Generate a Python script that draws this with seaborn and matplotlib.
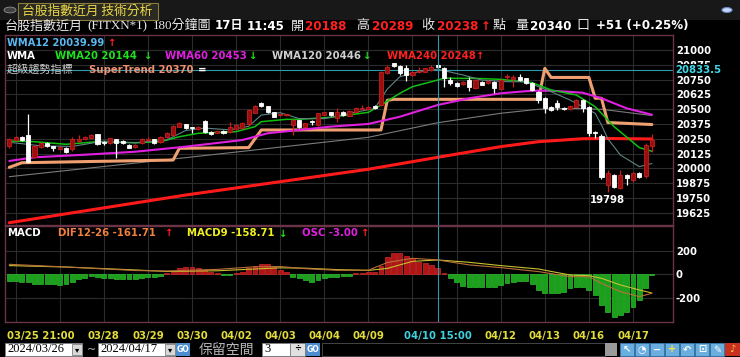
import matplotlib
matplotlib.use("Agg")
import matplotlib.pyplot as plt
import matplotlib.transforms as mtransforms
from matplotlib.patches import Rectangle, Circle
import numpy as np
import pandas as pd
import seaborn as sns

# ---------------- data ----------------
bar_idx = list(range(103))
opens = [20188, 20239, 20267, 20284, 20093, 20183, 20216, 20188, 20161, 20175,
         20160, 20235, 20245, 20259, 20287, 20220, 20212, 20245, 20233, 20197,
         20180, 20212, 20240, 20245, 20225, 20262, 20282, 20352, 20372, 20350,
         20335, 20402, 20310, 20300, 20318, 20304, 20330, 20338, 20372, 20470,
         20549, 20527, 20473, 20452, 20450, 20366, 20408, 20346, 20395, 20366,
         20453, 20473, 20422, 20479, 20445, 20479, 20500, 20505, 20527, 20535,
         20803, 20887, 20865, 20845, 20789, 20815, 20817, 20830, 20873, 20845,
         20746, 20724, 20710, 20746, 20676, 20732, 20718, 20732, 20668, 20768,
         20752, 20775, 20760, 20724, 20648, 20592, 20521, 20549, 20512, 20499,
         20521, 20577, 20521, 20310, 20273, 19859, 19944, 19831, 19944, 19901,
         19958, 19935, 20188]
highs = [20254, 20275, 20272, 20459, 20195, 20225, 20225, 20192, 20190, 20180,
         20262, 20282, 20272, 20290, 20292, 20228, 20260, 20250, 20240, 20205,
         20205, 20255, 20265, 20250, 20270, 20305, 20365, 20395, 20378, 20352,
         20360, 20410, 20315, 20325, 20322, 20394, 20372, 20390, 20500, 20535,
         20560, 20530, 20478, 20465, 20462, 20415, 20412, 20385, 20405, 20470,
         20480, 20478, 20513, 20485, 20495, 20520, 20535, 20525, 20535, 20825,
         20870, 20892, 20870, 20873, 20825, 20860, 20850, 20870, 20880, 20860,
         20770, 20730, 20740, 20770, 20755, 20740, 20748, 20740, 20752, 20800,
         20785, 20800, 20765, 20730, 20655, 20600, 20530, 20575, 20518, 20532,
         20583, 20585, 20530, 20315, 20290, 19985, 19950, 19985, 19950, 19965,
         19965, 20210, 20289]
lows = [20169, 20232, 20232, 20042, 20085, 20175, 20180, 20150, 20155, 20130,
        20150, 20225, 20240, 20255, 20195, 20195, 20205, 20087, 20205, 20170,
        20175, 20205, 20230, 20205, 20215, 20255, 20275, 20345, 20330, 20295,
        20325, 20300, 20285, 20295, 20290, 20300, 20325, 20335, 20365, 20465,
        20520, 20468, 20430, 20445, 20440, 20281, 20340, 20340, 20365, 20360,
        20448, 20445, 20390, 20445, 20440, 20475, 20493, 20498, 20500, 20530,
        20798, 20860, 20790, 20739, 20780, 20805, 20810, 20825, 20850, 20690,
        20705, 20690, 20705, 20650, 20670, 20700, 20712, 20635, 20660, 20745,
        20690, 20740, 20712, 20655, 20552, 20465, 20485, 20490, 20495, 20495,
        20515, 20480, 20275, 20255, 19907, 19798, 19835, 19825, 19860, 19880,
        19920, 19920, 20140]
closes = [20245, 20267, 20239, 20056, 20188, 20214, 20188, 20169, 20183, 20135,
          20250, 20250, 20267, 20284, 20205, 20212, 20254, 20216, 20212, 20175,
          20198, 20245, 20248, 20212, 20262, 20296, 20358, 20380, 20338, 20340,
          20350, 20304, 20290, 20318, 20296, 20352, 20366, 20380, 20493, 20527,
          20527, 20473, 20436, 20458, 20458, 20408, 20346, 20380, 20388, 20465,
          20473, 20451, 20479, 20451, 20487, 20512, 20512, 20515, 20507, 20817,
          20859, 20865, 20808, 20789, 20817, 20825, 20845, 20855, 20854, 20761,
          20724, 20696, 20732, 20690, 20746, 20704, 20740, 20676, 20746, 20775,
          20775, 20746, 20718, 20662, 20577, 20507, 20493, 20521, 20499, 20527,
          20577, 20507, 20296, 20296, 19929, 19958, 19845, 19944, 19916, 19958,
          19929, 20197, 20238]

wma12_x = [0, 5, 10, 15, 20, 25, 28, 31, 35, 38, 40, 43, 46, 50, 55, 58, 60, 62, 65, 68,
           72, 75, 79, 82, 84, 86, 89, 91, 93, 94, 95, 97, 100, 102]
wma12_y = [20220, 20190, 20185, 20230, 20215, 20240, 20320, 20340, 20325, 20355, 20450,
           20470, 20420, 20420, 20475, 20505, 20670, 20774, 20817, 20838, 20789, 20746,
           20732, 20732, 20690, 20648, 20577, 20521, 20465, 20366, 20250, 20112, 20014, 20040]
wma20_x = [0, 4, 9, 14, 20, 24, 27, 30, 36, 39, 40, 44, 46, 51, 57, 59, 62, 64, 67, 69,
           74, 78, 83, 86, 90, 93, 96, 100, 102]
wma20_y = [20231, 20225, 20203, 20225, 20216, 20225, 20267, 20296, 20310, 20352, 20394,
           20414, 20414, 20431, 20473, 20535, 20634, 20690, 20732, 20761, 20760, 20752,
           20724, 20662, 20620, 20521, 20352, 20175, 20144]
wma60_x = [0, 4, 11, 20, 28, 37, 41, 46, 51, 57, 62, 68, 73, 78, 83, 86, 91, 94, 98, 102]
wma60_y = [20062, 20093, 20112, 20140, 20183, 20239, 20296, 20324, 20352, 20375, 20436,
           20535, 20592, 20634, 20656, 20656, 20639, 20592, 20507, 20453]
wma120_x = [0, 28, 57, 68, 78, 84, 89, 94, 102]
wma120_y = [19929, 20090, 20262, 20385, 20465, 20499, 20507, 20499, 20446]
wma240_x = [0, 28, 57, 68, 78, 84, 91, 95, 102]
wma240_y = [19540, 19774, 19992, 20093, 20183, 20225, 20250, 20252, 20248]
st_x = [0, 2, 26, 27, 38, 40, 58, 59, 60, 61, 84, 85, 86, 92, 93, 94, 95, 102]
st_y = [20008, 20047, 20070, 20169, 20175, 20324, 20324, 20324, 20575, 20583, 20583,
        20845, 20768, 20768, 20592, 20592, 20387, 20370]

osc = [-57, -57, -62, -68, -85, -85, -85, -85, -91, -85, -62, -43, -28, -14, -20, -34,
       -34, -40, -40, -43, -43, -34, -26, -20, -14, 8, 23, 51, 60, 60, 51, 37, 23, 14,
       -6, -6, 9, 23, 51, 74, 85, 85, 65, 37, 23, -20, -34, -48, -62, -48, -34, -26,
       -20, -14, -11, 9, 14, 20, 23, 73, 150, 179, 179, 159, 136, 108, 99, 79, 57, 9,
       -28, -68, -96, -105, -105, -105, -105, -105, -91, -77, -62, -57, -57, -85, -133,
       -162, -162, -162, -148, -119, -105, -105, -133, -176, -261, -323, -360, -346,
       -323, -275, -218, -119, -3]
dif_x = [0, 9, 20, 25, 33, 39, 43, 47, 52, 57, 60, 64, 68, 73, 78, 84, 89, 92, 94, 97, 100, 102]
dif_y = [85, 62, 32, 28, 42, 64, 66, 48, 34, 35, 100, 136, 122, 80, 57, 23, -20, -20, -77,
         -148, -190, -162]
macd9_y = [74, 62, 37, 24, 30, 45, 55, 52, 40, 33, 50, 110, 122, 102, 74, 45, -6, -12, -34,
           -91, -133, -159]

price_ticks = [21000, 20875, 20750, 20625, 20500, 20375, 20250, 20125, 20000, 19875, 19750, 19625]
macd_ticks = [200, 0, -200]
grid_bars = [1, 8, 15, 22, 29, 36, 43, 50, 57, 64, 71, 78, 85, 92, 99]
date_tick_bars = [0, 15, 22, 29, 36, 43, 50, 57, 64, 78, 85, 92, 99]
date_tick_labels = ["03/25 21:00", "03/28", "03/29", "03/30", "04/02", "04/03", "04/04",
                    "04/09", "04/10", "04/12", "04/13", "04/16", "04/17"]
cursor_bar = 68
cursor_label = "04/10 15:00"
cursor_price = 20833.5

# ---------------- style ----------------
sns.set_theme(style="dark")
plt.rcParams['font.family'] = ['DejaVu Sans', 'Noto Sans CJK TC']
W, H = 740, 357
fig = plt.figure(figsize=(W / 100, H / 100), dpi=100, facecolor='black')

def fx(x):
    return x / W

def fy(y):
    return 1 - y / H

CJK = ['Noto Sans CJK TC', 'DejaVu Sans']
SERIF = ['Liberation Serif', 'Noto Sans CJK TC']
BOLD = ['DejaVu Sans', 'Noto Sans CJK TC']

def txt(x, y, s, color='white', size=7.3, weight='bold', family=None, ha='left', **kw):
    fig.text(fx(x), fy(y), s, color=color, fontsize=size, fontweight=weight,
             family=family or BOLD, ha=ha, va='center', **kw)

border = '#6a3446'
gridc = '#2c2c2c'

x0, x1 = -0.68, 105.35
ax = fig.add_axes([fx(5), fy(225), (673 - 5) / W, (225 - 35) / H])
axm = fig.add_axes([fx(5), fy(322), (673 - 5) / W, (322 - 226) / H])
for a in (ax, axm):
    a.set_facecolor('black')
    a.set_xlim(x0, x1)
    for sp in a.spines.values():
        sp.set_color(border)
        sp.set_linewidth(1.0)
    a.grid(False)
    a.set_xticks([])
    a.tick_params(axis='y', length=0, pad=2, labelsize=7.3, labelcolor='white')
    a.yaxis.tick_right()
    for g in grid_bars:
        a.axvline(g, color=gridc, lw=0.8, zorder=0)

ax.set_ylim(21000 - 175 * 8.453, 21000 + 15 * 8.453)
for p in price_ticks:
    ax.axhline(p, color=gridc, lw=0.8, zorder=0)
ax.set_yticks(price_ticks)
ax.set_yticklabels([str(p) for p in price_ticks], fontweight='bold')

axm.set_ylim(-406, 411)
for p in macd_ticks:
    axm.axhline(p, color=gridc, lw=0.8, zorder=0)
axm.set_yticks(macd_ticks)
axm.set_yticklabels([str(p) for p in macd_ticks], fontweight='bold')

# ---------------- price lines ----------------
def line(a, xs, ys, color, lw, z=2):
    sns.lineplot(x=xs, y=ys, ax=a, color=color, lw=lw, sort=False, estimator=None,
                 legend=False, zorder=z)

line(ax, wma240_x, wma240_y, '#ff1a1a', 2.2)
line(ax, wma120_x, wma120_y, '#7a7a7a', 0.8)
line(ax, st_x, st_y, '#f0a070', 2.2)
line(ax, wma60_x, wma60_y, '#e020e0', 1.5)
line(ax, wma20_x, wma20_y, '#10c010', 1.1)
line(ax, wma12_x, wma12_y, '#5f8484', 0.8)

# ---------------- candles ----------------
df = pd.DataFrame({'i': bar_idx, 'o': opens, 'h': highs, 'l': lows, 'c': closes})
up = df['c'] >= df['o']
col_fill = np.where(up, '#9a0e0e', '#ffffff')
col_edge = np.where(up, '#c81e1e', '#ffffff')
ax.vlines(df['i'], df['l'], df['h'], colors=col_edge, lw=0.9, zorder=3)
body_lo = np.minimum(df['o'], df['c'])
body_h = np.maximum(np.abs(df['c'] - df['o']), 9)
ax.bar(df['i'], body_h, bottom=body_lo, width=0.66, color=col_fill, edgecolor=col_edge,
       linewidth=0.6, zorder=4)
lo_i = int(np.argmin(lows))
ax.annotate(str(lows[lo_i]), xy=(lo_i, lows[lo_i]), xytext=(0, -2), textcoords='offset points',
            ha='center', va='top', color='white', fontsize=7.3, fontweight='bold', zorder=6)

# cursor
for a in (ax, axm):
    a.axvline(cursor_bar, color='#2f9aaa', lw=0.8, zorder=5)
ax.axhline(cursor_price, color='#2f9aaa', lw=0.8, zorder=1)
ax.text(1.003, cursor_price, f"{cursor_price}", transform=ax.get_yaxis_transform(),
        color='#40d8e8', fontsize=7.3, fontweight='bold', va='center', ha='left',
        bbox=dict(boxstyle='square,pad=0.1', fc='black', ec='none'), zorder=10)

# ---------------- MACD ----------------
osc_c = ['#b01414' if v > 0 else '#1aa01a' for v in osc]
osc_e = ['#d02a2a' if v > 0 else '#30c030' for v in osc]
axm.bar(bar_idx, osc, width=0.78, color=osc_c, edgecolor=osc_e, linewidth=0.5, zorder=2)
line(axm, dif_x, macd9_y, '#c8c030', 0.8, z=3)
line(axm, dif_x, dif_y, '#b87038', 0.8, z=3)
axm.set_xticks(date_tick_bars)
axm.set_xticklabels([])
axm.tick_params(axis='x', length=4, color='#8a8a8a', width=0.8, direction='out')
for a in (ax, axm):
    a.set_xlabel('')
    a.set_ylabel('')

trans = mtransforms.blended_transform_factory(axm.transData, fig.transFigure)
for b, lab in zip(date_tick_bars, date_tick_labels):
    if lab == cursor_label[:5]:
        continue  # hidden under the cursor's date box
    axm.text(b - (0.35 if b == 0 else 0), fy(335.5), lab, transform=trans,
             ha='left' if b == 0 else 'center', va='center', color='#e2dc3c',
             fontsize=7.3, fontweight='bold', clip_on=False)
axm.text(cursor_bar, fy(335.5), cursor_label, transform=trans, ha='center', va='center',
         color='#40d0e0', fontsize=7.3, fontweight='bold', clip_on=False,
         bbox=dict(boxstyle='square,pad=0.05', fc='black', ec='none'))

# ---------------- header / legends ----------------
fig.patches.append(Rectangle((0, fy(20)), 1, 20 / H, transform=fig.transFigure,
                             fc='#181818', ec='none', zorder=-1))
fig.patches.append(Rectangle((fx(18), fy(20)), 140 / W, 17 / H, transform=fig.transFigure,
                             fc='#2a2a22', ec='#8a7a40', lw=0.8, zorder=0))
fig.patches.append(Circle((fx(10), fy(10)), 6 / W, transform=fig.transFigure,
                          fc='#404040', ec='#909090', lw=0.6))
txt(22, 11, "台股指數近月 技術分析", color='#ecd848', size=9.2, weight='normal', family=CJK)
fig.patches.append(Circle((fx(727), fy(10)), 5 / W, transform=fig.transFigure,
                          fc='#c8d8ff', ec='#6a8ac8', lw=0.8))

yh = 26
txt(5, yh, "台股指數近月", color='#e8e8e8', size=9.4, weight='normal', family=CJK)
txt(87, yh, "(FITXN*1)", color='#e8e8e8', size=9.4, weight='normal', family=SERIF)
txt(153, yh, "180分鐘圖", color='#e8e8e8', size=9.4, weight='normal', family=SERIF)
txt(215, yh, "17日", size=8.6)
txt(247, yh, "11:45", size=8.6)
txt(291, yh, "開", color='#e8e8e8', size=9.4, weight='normal', family=CJK)
txt(305, yh, "20188", color='#ff2020', size=8.6)
txt(356, yh, "高", color='#e8e8e8', size=9.4, weight='normal', family=CJK)
txt(372, yh, "20289", color='#ff2020', size=8.6)
txt(421, yh, "收", color='#e8e8e8', size=9.4, weight='normal', family=CJK)
txt(437, yh, "20238", color='#ff2020', size=8.6)
txt(481, yh, "↑", color='#ff2020', size=8.6)
txt(493, yh, "點", color='#e8e8e8', size=9.4, weight='normal', family=CJK)
txt(515, yh, "量", color='#e8e8e8', size=9.4, weight='normal', family=CJK)
txt(530, yh, "20340", size=8.6)
txt(576, yh, "口", color='#e8e8e8', size=9.4, weight='normal', family=CJK)
txt(596, yh, "+51 (+0.25%)", size=8.6)

txt(7, 43, "WMA12 20039.99", color='#5ab8f0', size=7.1)
txt(107, 43, "↑", color='#ff2020')
txt(7, 56, "WMA", color='white')
txt(55, 56, "WMA20 20144", color='#20e020')
txt(143, 56, "↓", color='#20e020')
txt(165, 56, "WMA60 20453", color='#e020e0')
txt(248, 56, "↓", color='#20e020')
txt(272, 56, "WMA120 20446", color='#d0d0d0')
txt(362, 56, "↓", color='#20e020')
txt(387, 56, "WMA240 20248", color='#ff2020')
txt(475, 56, "↑", color='#ff2020')
txt(7, 70, "超級趨勢指標", color='#c8c8c8', size=8.0, weight='normal', family=CJK)
txt(89, 70, "SuperTrend 20370", color='#f09070')
txt(198, 70, "=", color='white')

txt(7, 233.5, "MACD", color='white')
txt(58, 233.5, "DIF12-26 -161.71", color='#f08040')
txt(164, 233.5, "↑", color='#ff2020')
txt(187, 233.5, "MACD9 -158.71", color='#f0f020')
txt(278, 233.5, "↓", color='#20e020')
txt(302, 233.5, "OSC -3.00", color='#e020e0')
txt(360, 233.5, "↑", color='#ff2020')

# ---------------- bottom bar ----------------
def box(x, y, w, h, fc, ec='none', lw=0.6):
    fig.patches.append(Rectangle((fx(x), fy(y + h)), w / W, h / H, transform=fig.transFigure,
                                 fc=fc, ec=ec, lw=lw))

box(5, 343, 77, 13, 'white', '#808080')
box(72, 344, 10, 11, '#d8d8d8', '#808080')
txt(7, 349.5, "2024/03/26", color='black', size=9, weight='normal', family=SERIF)
txt(77, 349.5, "▾", color='black', size=6, ha='center')
txt(87, 349.5, "~", color='#c0c0c0', size=8, weight='normal')
box(98, 343, 77, 13, 'white', '#808080')
box(165, 344, 10, 11, '#d8d8d8', '#808080')
txt(100, 349.5, "2024/04/17", color='black', size=9, weight='normal', family=SERIF)
txt(170, 349.5, "▾", color='black', size=6, ha='center')
box(176, 343, 14, 13, '#4a8ed0')
txt(183, 349.5, "GO", color='white', size=5.5, ha='center')
txt(199, 349.5, "保留空間", color='#b8b8b8', size=10, weight='normal', family=CJK)
box(262, 343, 28, 13, 'white', '#808080')
txt(264, 349.5, "3", color='black', size=9, weight='normal', family=SERIF)
box(290, 343, 15, 13, '#e0e0e0', '#808080')
txt(297.5, 349.5, "÷", color='black', size=6, ha='center')
box(306, 343, 14, 13, '#4a8ed0')
txt(313, 349.5, "GO", color='white', size=5.5, ha='center')
box(322, 343, 283, 13, 'black', '#505050')
box(605, 343, 12, 13, '#9a9a9a')
icons = ["↖", "◔", "−", "+", "↶", "⊡", "✎"]
for k, ic in enumerate(icons):
    bx = 620 + k * 15
    box(bx, 343, 14, 13, '#6aaee0', '#3a7ab0')
    txt(bx + 7, 349.5, ic, color='#ffe040' if ic == "+" else 'white', size=7, ha='center')
box(725, 343, 15, 13, '#c83020')
txt(732.5, 349.5, "♪", color='#ffd040', size=7, ha='center')

fig.savefig('out.png', dpi=100, facecolor='black')
